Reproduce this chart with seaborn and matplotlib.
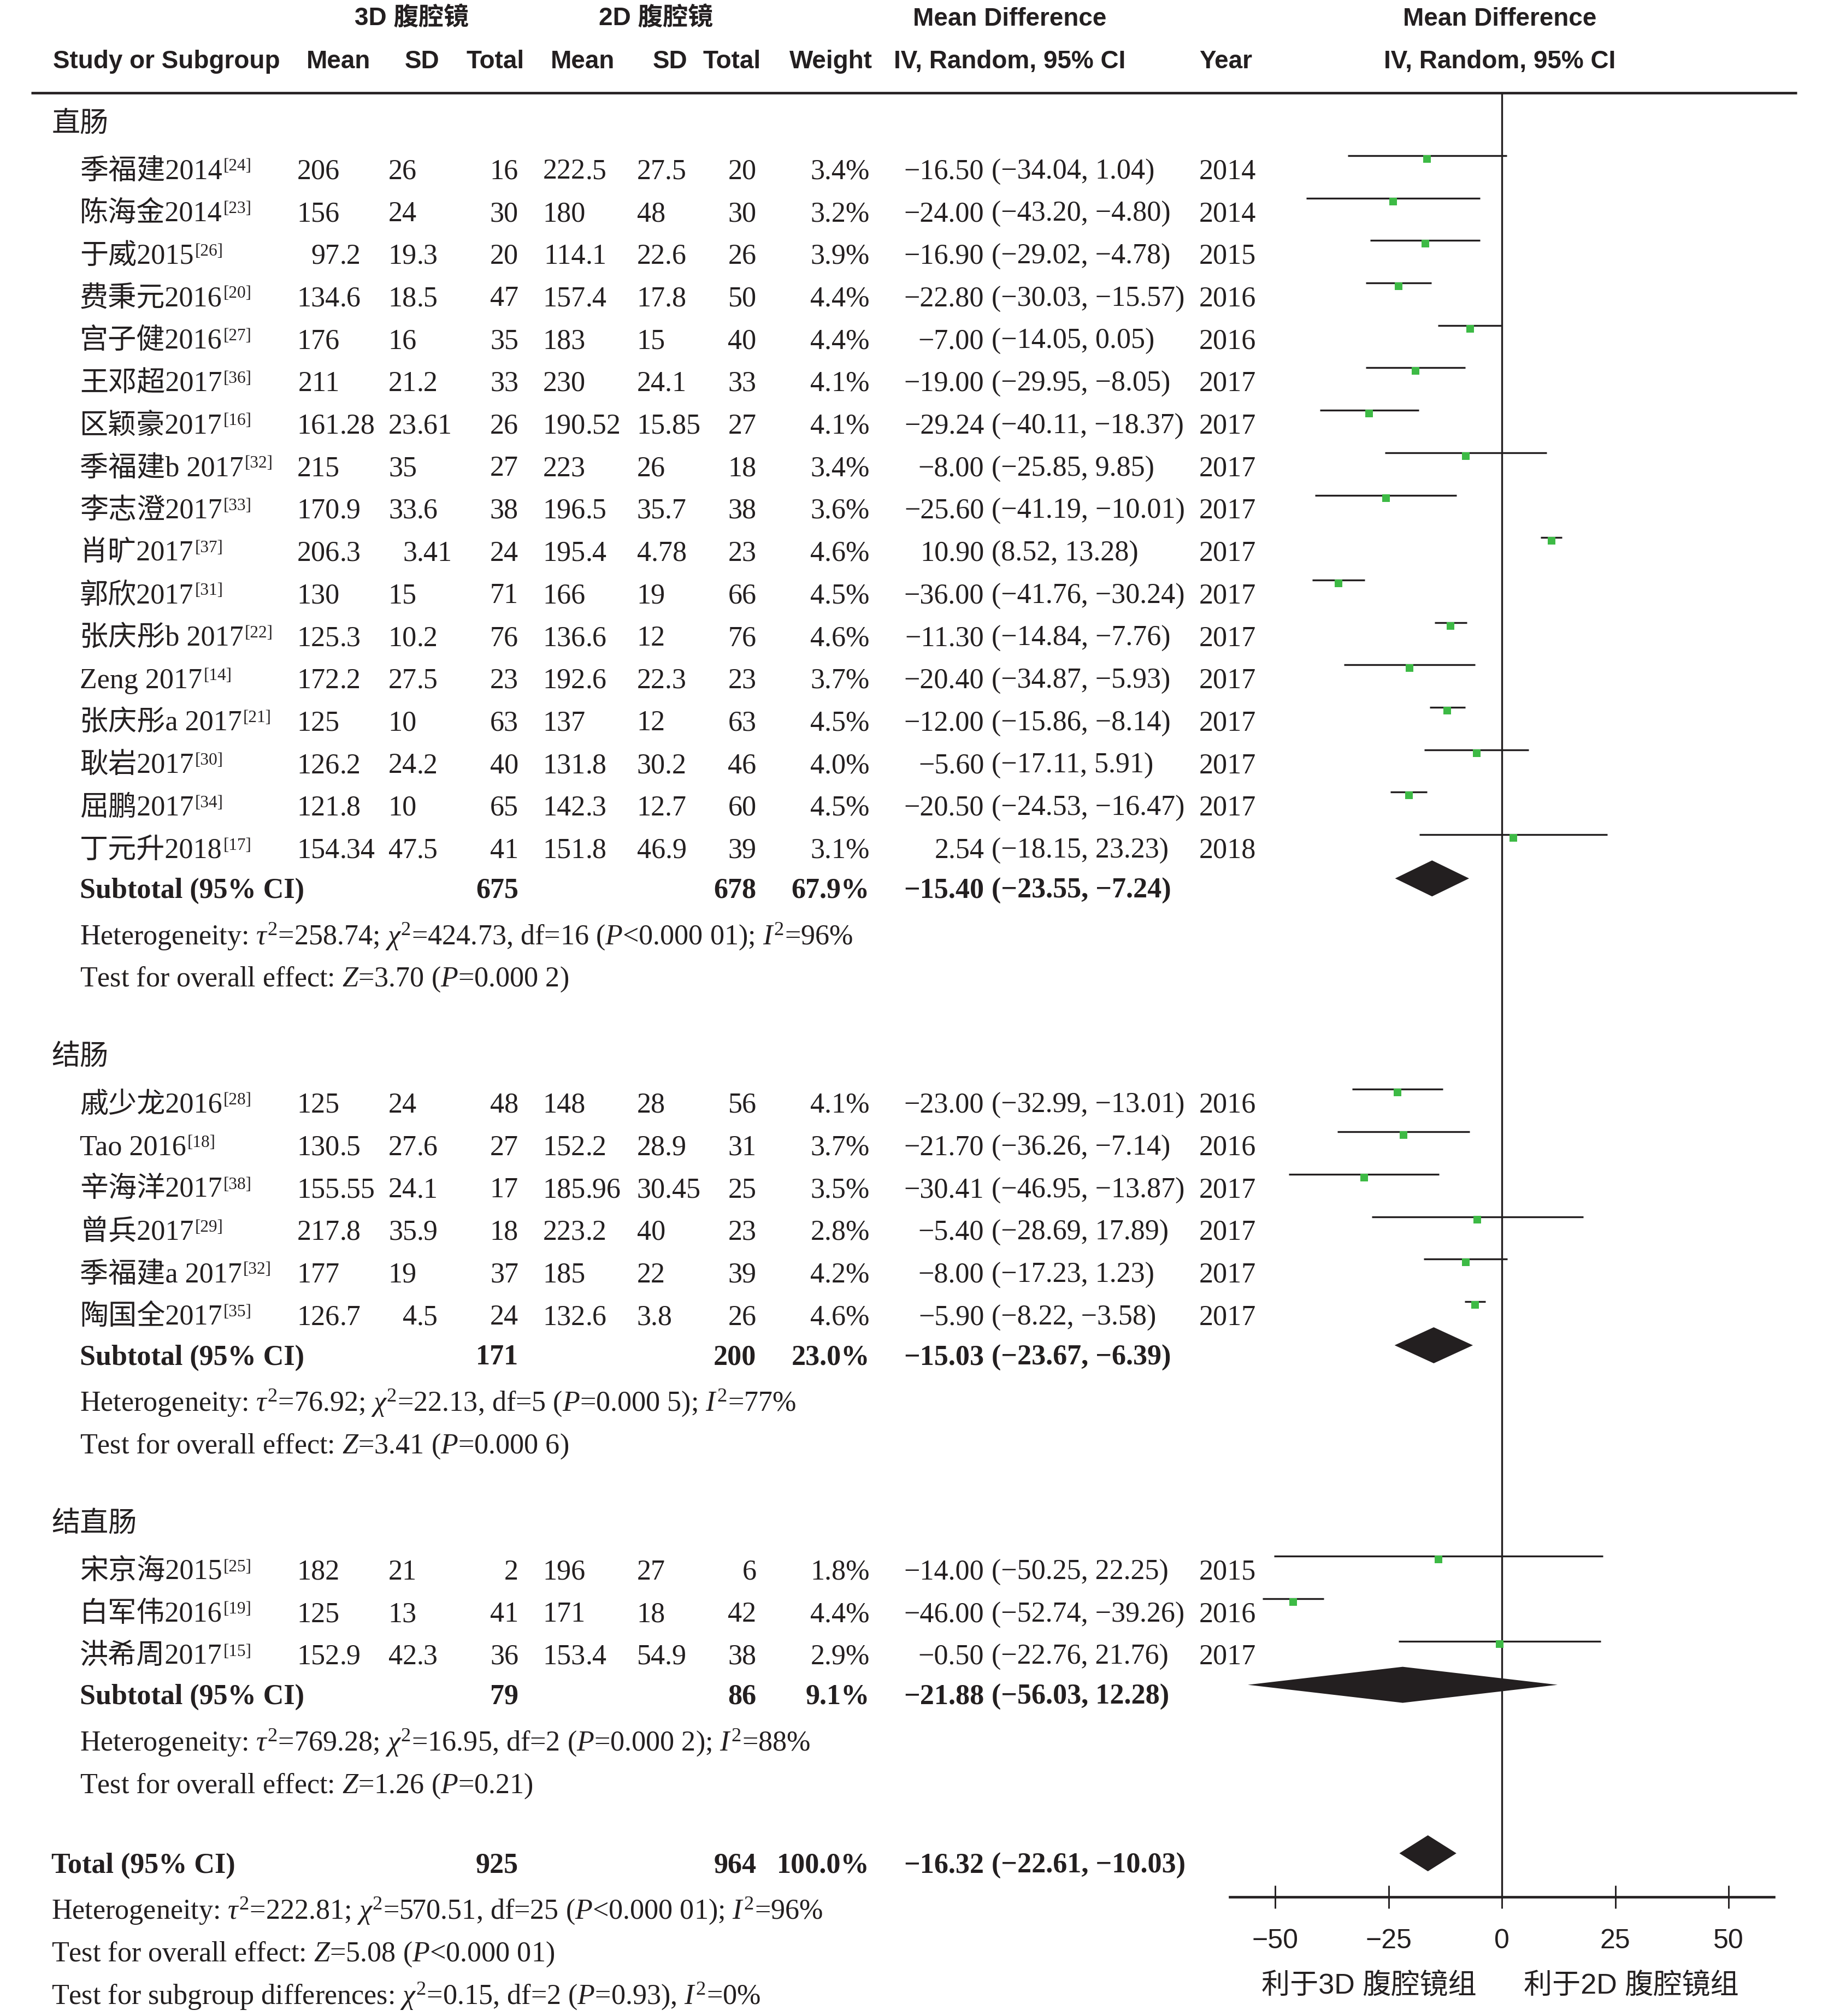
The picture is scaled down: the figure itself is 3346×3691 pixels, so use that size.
import numpy as np
import pandas as pd
import matplotlib
matplotlib.use("Agg")
import matplotlib.pyplot as plt
import seaborn as sns

# ---- data: 直肠 ----
names1 = ['季福建2014', '陈海金2014', '于威2015', '费秉元2016', '宫子健2016', '王邓超2017',
          '区颖豪2017', '季福建b 2017', '李志澄2017', '肖旷2017', '郭欣2017', '张庆彤b 2017',
          'Zeng 2017', '张庆彤a 2017', '耿岩2017', '屈鹏2017', '丁元升2018']
refs1 = ['24', '23', '26', '20', '27', '36', '16', '32', '33', '37', '31', '22', '14', '21', '30', '34', '17']
mean3_1 = ['206', '156', '97.2', '134.6', '176', '211', '161.28', '215', '170.9', '206.3', '130',
           '125.3', '172.2', '125', '126.2', '121.8', '154.34']
sd3_1 = ['26', '24', '19.3', '18.5', '16', '21.2', '23.61', '35', '33.6', '3.41', '15', '10.2',
         '27.5', '10', '24.2', '10', '47.5']
n3_1 = [16, 30, 20, 47, 35, 33, 26, 27, 38, 24, 71, 76, 23, 63, 40, 65, 41]
mean2_1 = ['222.5', '180', '114.1', '157.4', '183', '230', '190.52', '223', '196.5', '195.4', '166',
           '136.6', '192.6', '137', '131.8', '142.3', '151.8']
sd2_1 = ['27.5', '48', '22.6', '17.8', '15', '24.1', '15.85', '26', '35.7', '4.78', '19', '12',
         '22.3', '12', '30.2', '12.7', '46.9']
n2_1 = [20, 30, 26, 50, 40, 33, 27, 18, 38, 23, 66, 76, 23, 63, 46, 60, 39]
weight1 = [3.4, 3.2, 3.9, 4.4, 4.4, 4.1, 4.1, 3.4, 3.6, 4.6, 4.5, 4.6, 3.7, 4.5, 4.0, 4.5, 3.1]
md1 = [-16.50, -24.00, -16.90, -22.80, -7.00, -19.00, -29.24, -8.00, -25.60, 10.90, -36.00,
       -11.30, -20.40, -12.00, -5.60, -20.50, 2.54]
lo1 = [-34.04, -43.20, -29.02, -30.03, -14.05, -29.95, -40.11, -25.85, -41.19, 8.52, -41.76,
       -14.84, -34.87, -15.86, -17.11, -24.53, -18.15]
hi1 = [1.04, -4.80, -4.78, -15.57, 0.05, -8.05, -18.37, 9.85, -10.01, 13.28, -30.24,
       -7.76, -5.93, -8.14, 5.91, -16.47, 23.23]
year1 = [2014, 2014, 2015, 2016, 2016, 2017, 2017, 2017, 2017, 2017, 2017, 2017, 2017, 2017, 2017, 2017, 2018]

# ---- data: 结肠 ----
names2 = ['戚少龙2016', 'Tao 2016', '辛海洋2017', '曾兵2017', '季福建a 2017', '陶国全2017']
refs2 = ['28', '18', '38', '29', '32', '35']
mean3_2 = ['125', '130.5', '155.55', '217.8', '177', '126.7']
sd3_2 = ['24', '27.6', '24.1', '35.9', '19', '4.5']
n3_2 = [48, 27, 17, 18, 37, 24]
mean2_2 = ['148', '152.2', '185.96', '223.2', '185', '132.6']
sd2_2 = ['28', '28.9', '30.45', '40', '22', '3.8']
n2_2 = [56, 31, 25, 23, 39, 26]
weight2 = [4.1, 3.7, 3.5, 2.8, 4.2, 4.6]
md2 = [-23.00, -21.70, -30.41, -5.40, -8.00, -5.90]
lo2 = [-32.99, -36.26, -46.95, -28.69, -17.23, -8.22]
hi2 = [-13.01, -7.14, -13.87, 17.89, 1.23, -3.58]
year2 = [2016, 2016, 2017, 2017, 2017, 2017]

# ---- data: 结直肠 ----
names3 = ['宋京海2015', '白军伟2016', '洪希周2017']
refs3 = ['25', '19', '15']
mean3_3 = ['182', '125', '152.9']
sd3_3 = ['21', '13', '42.3']
n3_3 = [2, 41, 36]
mean2_3 = ['196', '171', '153.4']
sd2_3 = ['27', '18', '54.9']
n2_3 = [6, 42, 38]
weight3 = [1.8, 4.4, 2.9]
md3 = [-14.00, -46.00, -0.50]
lo3 = [-50.25, -52.74, -22.76]
hi3 = [22.25, -39.26, 21.76]
year3 = [2015, 2016, 2017]

# ---- subtotals / total ----
group_names = ['直肠', '结肠', '结直肠']
sub_n3 = [675, 171, 79]
sub_n2 = [678, 200, 86]
sub_weight = [67.9, 23.0, 9.1]
sub_md = [-15.40, -15.03, -21.88]
sub_lo = [-23.55, -23.67, -56.03]
sub_hi = [-7.24, -6.39, 12.28]
sub_het = [r'Heterogeneity: $\tau^2$=258.74; $\chi^2$=424.73, df=16 ($P$<0.000 01); $I^2$=96%',
           r'Heterogeneity: $\tau^2$=76.92; $\chi^2$=22.13, df=5 ($P$=0.000 5); $I^2$=77%',
           r'Heterogeneity: $\tau^2$=769.28; $\chi^2$=16.95, df=2 ($P$=0.000 2); $I^2$=88%']
sub_test = [r'Test for overall effect: $Z$=3.70 ($P$=0.000 2)',
            r'Test for overall effect: $Z$=3.41 ($P$=0.000 6)',
            r'Test for overall effect: $Z$=1.26 ($P$=0.21)']
tot_n3, tot_n2, tot_weight = 925, 964, 100.0
tot_md, tot_lo, tot_hi = -16.32, -22.61, -10.03
tot_lines = [r'Heterogeneity: $\tau^2$=222.81; $\chi^2$=570.51, df=25 ($P$<0.000 01); $I^2$=96%',
             r'Test for overall effect: $Z$=5.08 ($P$<0.000 01)',
             r'Test for subgroup differences: $\chi^2$=0.15, df=2 ($P$=0.93), $I^2$=0%']
xticks = [-50, -25, 0, 25, 50]
favours = ['利于3D 腹腔镜组', '利于2D 腹腔镜组']

groups = [
    dict(name=names1, ref=refs1, m3=mean3_1, s3=sd3_1, n3=n3_1, m2=mean2_1, s2=sd2_1, n2=n2_1,
         w=weight1, md=md1, lo=lo1, hi=hi1, yr=year1),
    dict(name=names2, ref=refs2, m3=mean3_2, s3=sd3_2, n3=n3_2, m2=mean2_2, s2=sd2_2, n2=n2_2,
         w=weight2, md=md2, lo=lo2, hi=hi2, yr=year2),
    dict(name=names3, ref=refs3, m3=mean3_3, s3=sd3_3, n3=n3_3, m2=mean2_3, s2=sd2_3, n2=n2_3,
         w=weight3, md=md3, lo=lo3, hi=hi3, yr=year3),
]

# ---- style ----
sns.set_theme(style='white')
plt.rcParams['font.family'] = ['Liberation Serif', 'Noto Sans CJK SC']
plt.rcParams['mathtext.fontset'] = 'custom'
plt.rcParams['mathtext.rm'] = 'Liberation Serif'
plt.rcParams['mathtext.it'] = 'Liberation Serif:italic'
plt.rcParams['mathtext.bf'] = 'Liberation Serif:bold'

INK = '#231f20'
GREEN = '#3dba45'
SERIF = ['Liberation Serif', 'Noto Sans CJK SC']
HEAD = ['Liberation Sans', 'Noto Sans CJK SC']
FS = 12.5
HFS = 11

# layout works in a 1421-wide coordinate space
W = 1421.0
H = 3691 * W / 3346
fig = plt.figure(figsize=(3346 / 300, 3691 / 300), dpi=300)
ax = fig.add_axes([0, 0, 1, 1])
ax.set_xlim(0, W)
ax.set_ylim(H, 0)
ax.axis('off')

PLOT_L, PLOT_R, PLOT_T, PLOT_B = 956, 1379, 72, 1475
axf = fig.add_axes([PLOT_L / W, 1 - PLOT_B / H, (PLOT_R - PLOT_L) / W, (PLOT_B - PLOT_T) / H])
axf.patch.set_alpha(0)

X_GRP, X_NAME = 40, 62
X_M3, X_SD3, X_N3 = 264, 324, 403
X_M2, X_SD2, X_N2 = 455, 495, 588
X_W, X_EST, X_CI, X_YEAR = 676, 765, 771, 932


def put(x, y, s, ha='left', bold=False, size=FS, family=SERIF):
    return ax.text(x, y + 7, s, ha=ha, va='baseline', fontsize=size, color=INK,
                   fontweight='bold' if bold else 'normal', family=family)


def put_dec(x, y, s):
    # decimal aligned number
    if '.' in s:
        a, b = s.split('.')
        put(x, y, a, ha='right')
        put(x, y, '.' + b)
    else:
        put(x, y, s, ha='right')


def fmt(v):
    return f'{v:.2f}'.replace('-', '\u2212')


def put_md(y, md, lo, hi, bold=False):
    put(X_EST, y, fmt(md), ha='right', bold=bold)
    put(X_CI, y, f'({fmt(lo)}, {fmt(hi)})', bold=bold)


# header
hy1, hy2 = 13, 46
put(320, hy1, '3D 腹腔镜', ha='center', bold=True, size=HFS, family=HEAD)
put(510, hy1, '2D 腹腔镜', ha='center', bold=True, size=HFS, family=HEAD)
put(785, hy1, 'Mean Difference', ha='center', bold=True, size=HFS, family=HEAD)
put(1166, hy1, 'Mean Difference', ha='center', bold=True, size=HFS, family=HEAD)
for x, s, ha in [(41, 'Study or Subgroup', 'left'), (263, 'Mean', 'center'), (328, 'SD', 'center'),
                 (385, 'Total', 'center'), (453, 'Mean', 'center'), (521, 'SD', 'center'),
                 (569, 'Total', 'center'), (646, 'Weight', 'center'), (785, 'IV, Random, 95% CI', 'center'),
                 (953, 'Year', 'center'), (1166, 'IV, Random, 95% CI', 'center')]:
    put(x, hy2, s, ha=ha, bold=True, size=HFS, family=HEAD)
ax.plot([24, 1397], [PLOT_T, PLOT_T], color=INK, lw=1.1, solid_capstyle='butt')

# table rows
records = []
subs = []
y = 95
for gi, g in enumerate(groups):
    put(X_GRP, y, group_names[gi])
    y += 37
    n = len(g['name'])
    for i in range(n):
        t = put(X_NAME, y, g['name'][i])
        ax.annotate(f"[{g['ref'][i]}]", xy=(1, 1), xycoords=t, xytext=(0.5, 0),
                    textcoords='offset points', ha='left', va='top', fontsize=7.5,
                    color=INK, family=SERIF)
        put_dec(X_M3, y, g['m3'][i])
        put_dec(X_SD3, y, g['s3'][i])
        put(X_N3, y, str(g['n3'][i]), ha='right')
        put_dec(X_M2, y, g['m2'][i])
        put(X_SD2, y, g['s2'][i])
        put(X_N2, y, str(g['n2'][i]), ha='right')
        put(X_W, y, f"{g['w'][i]:.1f}%", ha='right')
        put_md(y, g['md'][i], g['lo'][i], g['hi'][i])
        put(X_YEAR, y, str(g['yr'][i]))
        records.append(dict(study=g['name'][i], md=g['md'][i], lo=g['lo'][i], hi=g['hi'][i], y=y))
        y += 33
    y += 31 - 33
    put(X_NAME, y, 'Subtotal (95% CI)', bold=True)
    put(X_N3, y, str(sub_n3[gi]), ha='right', bold=True)
    put(X_N2, y, str(sub_n2[gi]), ha='right', bold=True)
    put(X_W, y, f'{sub_weight[gi]:.1f}%', ha='right', bold=True)
    put_md(y, sub_md[gi], sub_lo[gi], sub_hi[gi], bold=True)
    subs.append(dict(md=sub_md[gi], lo=sub_lo[gi], hi=sub_hi[gi], y=y))
    y += 36
    put(X_NAME, y, sub_het[gi])
    y += 33
    put(X_NAME, y, sub_test[gi])
    y += 61

y += 1
put(X_GRP, y, 'Total (95% CI)', bold=True)
put(X_N3, y, str(tot_n3), ha='right', bold=True)
put(X_N2, y, str(tot_n2), ha='right', bold=True)
put(X_W, y, f'{tot_weight:.1f}%', ha='right', bold=True)
put_md(y, tot_md, tot_lo, tot_hi, bold=True)
subs.append(dict(md=tot_md, lo=tot_lo, hi=tot_hi, y=y))
y += 36
for s in tot_lines:
    put(X_GRP, y, s)
    y += 33

# forest plot
df = pd.DataFrame(records)
df['yl'] = df['y'] - 11
axf.hlines(df['yl'], df['lo'], df['hi'], color=INK, lw=0.8, zorder=2)
sns.scatterplot(x=df['md'], y=df['yl'] + 2.5, marker='s', s=12, color=GREEN, linewidth=0,
                ax=axf, zorder=3, legend=False)
for d in subs:
    c = d['y'] - 8
    axf.fill([d['lo'], d['md'], d['hi'], d['md']], [c, c - 14, c, c + 14], color=INK, lw=0, zorder=3)
axf.axvline(0, color=INK, lw=0.8, zorder=1)

axf.set_xlim(-60, 60)
axf.set_ylim(PLOT_B, PLOT_T)
axf.set_xticks(xticks)
axf.set_xticklabels([f'{v}'.replace('-', '\u2212') for v in xticks], family=HEAD, fontsize=12, color=INK)
axf.set_yticks([])
axf.set_xlabel('')
axf.set_ylabel('')
for side in ['top', 'left', 'right']:
    axf.spines[side].set_visible(False)
axf.spines['bottom'].set_color(INK)
axf.spines['bottom'].set_linewidth(1.1)
axf.tick_params(axis='x', direction='inout', length=10, width=0.7, color=INK, pad=9, bottom=True)

put(1064, 1543, favours[0], ha='center', size=12.5, family=HEAD)
put(1268, 1543, favours[1], ha='center', size=12.5, family=HEAD)

fig.savefig('out.png', dpi=300)
